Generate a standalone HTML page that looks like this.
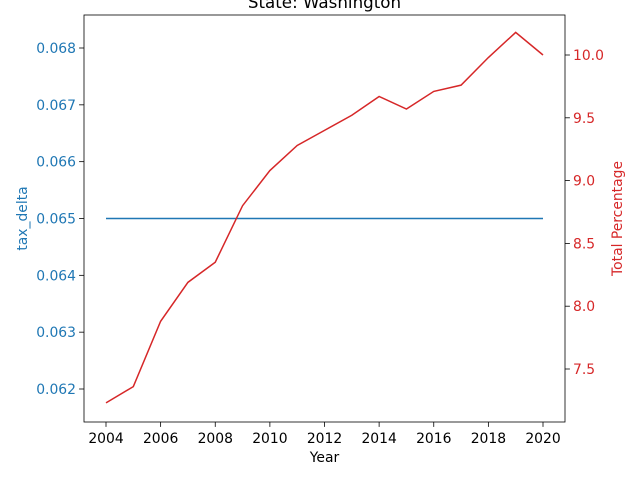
<!DOCTYPE html>
<html><head><meta charset="utf-8"><style>
body{margin:0;background:#fff;}
svg{display:block;font-family:"DejaVu Sans","Liberation Sans",sans-serif;}
</style></head><body>
<svg id="chart" width="640" height="480"></svg>
<script>
const years=[2004,2005,2006,2007,2008,2009,2010,2011,2012,2013,2014,2015,2016,2017,2018,2019,2020];
const taxDelta=[0.065,0.065,0.065,0.065,0.065,0.065,0.065,0.065,0.065,0.065,0.065,0.065,0.065,0.065,0.065,0.065,0.065];
const totalPct=[7.23,7.36,7.88,8.19,8.35,8.80,9.08,9.28,9.40,9.52,9.67,9.57,9.71,9.76,9.98,10.18,10.0];
const xTicks=[2004,2006,2008,2010,2012,2014,2016,2018,2020];
const leftTicks=[0.062,0.063,0.064,0.065,0.066,0.067,0.068];
const rightTicks=[7.5,8.0,8.5,9.0,9.5,10.0];

const L=84,R=565,T=15,B=422;
const x=v=>106+(v-2004)*(543-106)/16;
const yl=v=>389-(v-0.062)*(389-48)/0.006;
const yr=v=>369-(v-7.5)*(369-55)/2.5;
const svg=document.getElementById('chart');
const NS='http://www.w3.org/2000/svg';
function mk(tag,attrs,parent){const e=document.createElementNS(NS,tag);for(const k in attrs)e.setAttribute(k,attrs[k]);(parent||svg).appendChild(e);return e;}
function txt(s,attrs){const e=mk('text',attrs);e.textContent=s;return e;}

let t=txt('State: Washington',{x:(L+R)/2,y:8,'text-anchor':'middle','font-size':16.7,fill:'#000'});



xTicks.forEach(v=>{
  const g=mk('g',{});
  
  
  mk('line',{x1:x(v),x2:x(v),y1:B,y2:B+4.9,stroke:'#000','stroke-width':0.8},g);
  const e=mk('text',{x:x(v),y:B+21,'text-anchor':'middle','font-size':13.9,fill:'#000'},g);e.textContent=v;
});
leftTicks.forEach(v=>{
  const g=mk('g',{});
  
  
  mk('line',{x1:L-4.9,x2:L,y1:yl(v),y2:yl(v),stroke:'#000','stroke-width':0.8},g);
  const e=mk('text',{x:L-8,y:yl(v)+5,'text-anchor':'end','font-size':13.9,fill:'#1f77b4'},g);e.textContent=v.toFixed(3);
});
rightTicks.forEach(v=>{
  const g=mk('g',{});
  
  
  mk('line',{x1:R,x2:R+4.9,y1:yr(v),y2:yr(v),stroke:'#000','stroke-width':0.8},g);
  const e=mk('text',{x:R+8,y:yr(v)+5,'text-anchor':'start','font-size':13.9,fill:'#d62728'},g);e.textContent=v.toFixed(1);
});

let p=mk('polyline',{points:years.map((yv,i)=>x(yv)+','+yl(taxDelta[i])).join(' '),fill:'none',stroke:'#1f77b4','stroke-width':1.5});


p=mk('polyline',{points:years.map((yv,i)=>x(yv)+','+yr(totalPct[i])).join(' '),fill:'none',stroke:'#d62728','stroke-width':1.5});



const fr=mk('rect',{x:L,y:T,width:R-L,height:B-T,fill:'none',stroke:'#000','stroke-width':0.8});



t=txt('Year',{x:(L+R)/2,y:462,'text-anchor':'middle','font-size':13.9,fill:'#000'});


t=txt('tax_delta',{x:0,y:0,'text-anchor':'middle','font-size':13.9,fill:'#1f77b4',transform:'translate(27,'+((T+B)/2)+') rotate(-90)'});


t=txt('Total Percentage',{x:0,y:0,'text-anchor':'middle','font-size':13.9,fill:'#d62728',transform:'translate(622,'+((T+B)/2)+') rotate(-90)'});


</script>
</body></html>
